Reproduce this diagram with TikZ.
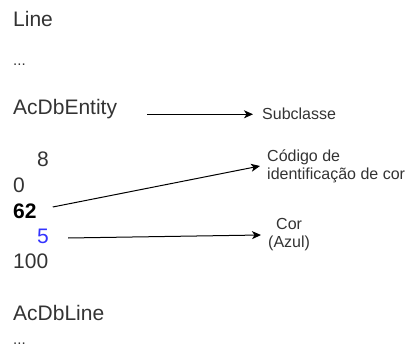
\documentclass[tikz,border=0pt]{standalone}
\usepackage{fontspec}
\setmainfont{Liberation Sans}
\usetikzlibrary{positioning,arrows.meta,calc}
\definecolor{txtgray}{HTML}{333333}
\definecolor{azul}{HTML}{3333FF}

\begin{document}
\begin{tikzpicture}[x=1pt,y=-1pt,
  txt/.style={anchor=base west,inner sep=0pt,text=txtgray,font=\fontsize{21}{25}\selectfont},
  dots/.style={txt,font=\fontsize{15}{18}\selectfont},
  lbl/.style={inner sep=0pt,text=txtgray,font=\fontsize{16}{18}\selectfont},
  ar/.style={-{Stealth[length=9pt,width=8pt,inset=2.5pt]},line width=1pt}]
\useasboundingbox (0,0) rectangle (406,347);
% registo da entidade
\node[txt] (line) at (13,27) {Line};
\node[dots] (dots1) at (13,66) {...};
\node[txt] (ent) at (13,115) {AcDbEntity};
\node[txt] (n8) at (37,167) {8};
\node[txt] (n0) at (13,193) {0};
\node[txt,text=black,font=\fontsize{21}{25}\selectfont\bfseries] (n62) at (13,218) {62};
\node[txt,text=azul] (n5) at (37,243) {5};
\node[txt] (n100) at (13,268) {100};
\node[txt] (dbl) at (13,320) {AcDbLine};
\node[dots] (dots2) at (13,344) {...};
% legendas
\node[lbl,anchor=base west] (sub) at (262,120) {Subclasse};
\node[lbl,anchor=west,align=left] (cod) at (267,166) {Código de\\identificação de cor};
\node[lbl,anchor=west,align=center] (cor) at (268,235) {Cor\\(Azul)};
% setas
\coordinate (s1) at ([xshift=30pt]ent.east);
\draw[ar] (s1 |- sub.west) -- ([xshift=-9pt]sub.west);
\draw[ar] ($(n62.base east)+(16,-11)$) -- ([xshift=-7pt]cod.west);
\draw[ar] ($(n5.base east)+(19,-5)$) -- ([xshift=-7pt]cor.west);
\end{tikzpicture}
\end{document}
